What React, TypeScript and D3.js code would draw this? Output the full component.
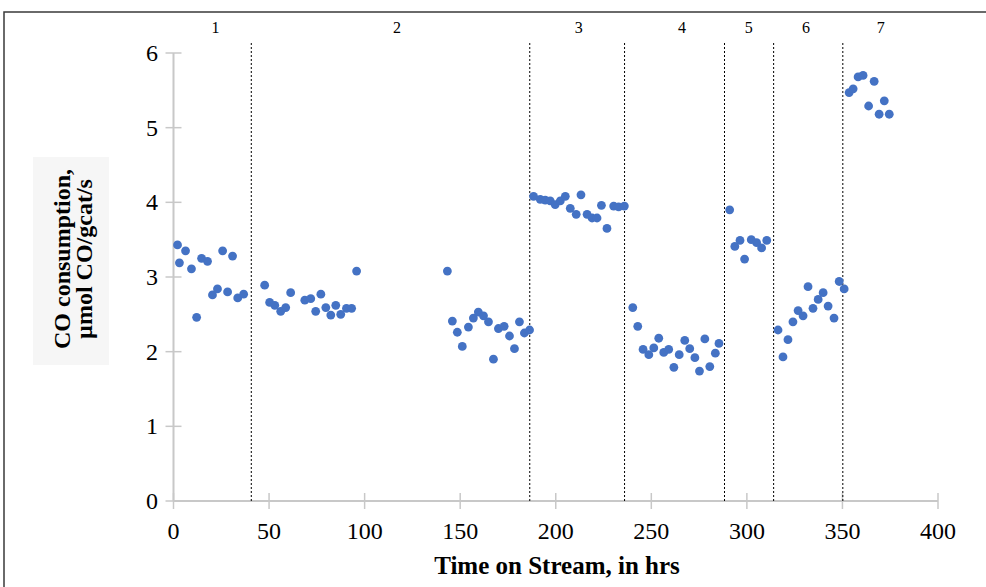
import * as d3 from 'd3'

// time on stream (hrs) and CO consumption (umol CO/gcat/s)
const timeHrs = [
  2.1, 3.1, 6.3, 9.4, 12.1, 14.7, 17.8, 20.4, 23.0, 25.7, 28.3, 30.9, 33.6, 36.7,
  47.7, 50.3, 53.0, 56.1, 58.7, 61.3, 68.7, 71.8, 74.4, 77.1, 79.7, 82.3, 84.9, 87.5, 90.5, 93.2, 95.8,
  143.3, 145.9, 148.5, 151.1, 154.3, 156.9, 159.5, 162.2, 164.8, 167.4, 170.0, 173.0, 175.8, 178.4, 181.0, 183.6, 186.3,
  188.4, 191.9, 194.5, 197.1, 199.7, 202.4, 205.0, 207.6, 210.7, 213.2, 216.4, 219.0, 221.6, 223.9, 226.8, 230.3, 232.9, 235.9,
  240.3, 242.9, 245.7, 248.7, 251.3, 253.9, 256.5, 259.1, 261.8, 264.6, 267.5, 270.1, 272.8, 275.2, 278.0, 280.6, 283.5, 285.4,
  291.0, 293.7, 296.4, 298.8, 302.3, 305.1, 307.7, 310.4,
  316.3, 318.9, 321.5, 324.1, 326.8, 329.4, 332.0, 334.6, 337.3, 339.9, 342.5, 345.6, 348.3, 350.9,
  353.5, 355.6, 358.2, 360.8, 363.7, 366.6, 369.2, 371.9, 374.5,
]

const coConsumption = [
  3.43, 3.19, 3.35, 3.11, 2.46, 3.25, 3.21, 2.76, 2.84, 3.35, 2.80, 3.28, 2.72, 2.77,
  2.89, 2.66, 2.62, 2.54, 2.59, 2.79, 2.69, 2.71, 2.54, 2.77, 2.59, 2.49, 2.62, 2.50, 2.58, 2.58, 3.08,
  3.08, 2.41, 2.26, 2.07, 2.33, 2.45, 2.53, 2.48, 2.40, 1.90, 2.31, 2.34, 2.21, 2.04, 2.40, 2.25, 2.29,
  4.08, 4.04, 4.03, 4.02, 3.97, 4.02, 4.08, 3.92, 3.84, 4.10, 3.84, 3.79, 3.79, 3.96, 3.65, 3.95, 3.94, 3.95,
  2.59, 2.34, 2.03, 1.96, 2.05, 2.18, 1.99, 2.03, 1.79, 1.96, 2.15, 2.04, 1.92, 1.74, 2.17, 1.80, 1.98, 2.11,
  3.90, 3.41, 3.49, 3.24, 3.50, 3.46, 3.39, 3.49,
  2.29, 1.93, 2.16, 2.40, 2.55, 2.48, 2.87, 2.58, 2.70, 2.79, 2.61, 2.45, 2.94, 2.84,
  5.47, 5.52, 5.68, 5.70, 5.29, 5.62, 5.18, 5.36, 5.18,
]

// dotted lines between the stages
const stageBreaks = [40.7, 186.4, 236, 288.3, 314, 350.2]
const stageLabels = ['1', '2', '3', '4', '5', '6', '7']
const stageLabelPos = [22, 117, 212, 266, 301, 331, 370]

const xTicks = [0, 50, 100, 150, 200, 250, 300, 350, 400]
const yTicks = [0, 1, 2, 3, 4, 5, 6]

const W = 986
const H = 587
const serif = '"Liberation Serif", "Times New Roman", serif'

export default function App() {
  const x = d3.scaleLinear().domain([0, 400]).range([173.5, 938])
  const y = d3.scaleLinear().domain([0, 6]).range([501, 53])
  const points = timeHrs.map((t, i) => ({ t, v: coConsumption[i] }))

  return (
    <svg width={W} height={H} style={{ position: 'absolute', left: 0, top: 0, background: '#fff' }}>
      {/* outer frame, runs off the right and bottom */}
      <rect x={4} y={12} width={1000} height={600} fill="none" stroke="#3a3a3a" strokeWidth={1.5} />

      {/* y label box */}
      <rect x={33} y={157} width={76} height={208} fill="#f6f6f6" />
      <g transform={`translate(0, 259) rotate(-90)`} fontFamily={serif} fontWeight="bold" fontSize={24} textAnchor="middle" fill="#000">
        <text x={0} y={70}>CO consumption,</text>
        <text x={0} y={92}>µmol CO/gcat/s</text>
      </g>

      {/* axes */}
      <line x1={x(0)} x2={x(0)} y1={y(6)} y2={y(0)} stroke="#c8c8c8" strokeWidth={2} />
      <line x1={x(0)} x2={x(400)} y1={y(0)} y2={y(0)} stroke="#c8c8c8" strokeWidth={2} />
      {yTicks.map(t => (
        <g key={'y' + t}>
          <line x1={x(0) - 8} x2={x(0) + 8} y1={y(t)} y2={y(t)} stroke="#c8c8c8" strokeWidth={1.5} />
          <text x={158} y={y(t)} dy="0.34em" textAnchor="end" fontFamily={serif} fontSize={24} fill="#000">{t}</text>
        </g>
      ))}
      {xTicks.map(t => (
        <g key={'x' + t}>
          <line x1={x(t)} x2={x(t)} y1={y(0) - 8} y2={y(0) + 8} stroke="#c8c8c8" strokeWidth={1.5} />
          <text x={x(t)} y={539} textAnchor="middle" fontFamily={serif} fontSize={24} fill="#000">{t}</text>
        </g>
      ))}

      {/* stage dividers */}
      {stageBreaks.map(b => (
        <line key={'b' + b} x1={x(b)} x2={x(b)} y1={43} y2={y(0)} stroke="#000" strokeWidth={1} strokeDasharray="2,2" />
      ))}
      {stageLabels.map((s, i) => (
        <text key={'s' + s} x={x(stageLabelPos[i])} y={33} textAnchor="middle" fontFamily={serif} fontSize={16} fill="#000">{s}</text>
      ))}

      {/* data */}
      {points.map((p, i) => (
        <circle key={i} cx={x(p.t)} cy={y(p.v)} r={4.4} fill="#4472C4" />
      ))}

      <text x={557} y={574} textAnchor="middle" fontFamily={serif} fontWeight="bold" fontSize={25} fill="#000">
        Time on Stream, in hrs
      </text>
    </svg>
  )
}
